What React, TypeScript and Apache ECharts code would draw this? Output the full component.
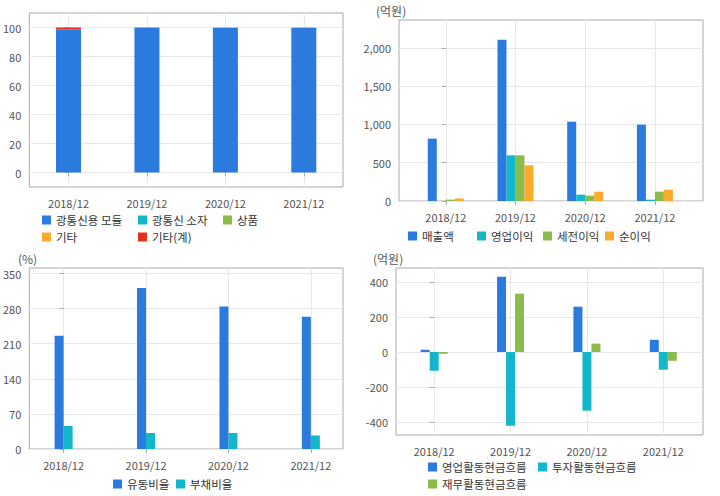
import React, { useEffect, useRef } from "react";
import * as echarts from "echarts";

const categories = ["2018/12", "2019/12", "2020/12", "2021/12"];

// Panel 1: 제품 구성 (%)
const moduleShare = [98.6, 100, 99.7, 99.7];
const deviceShare = [0, 0, 0.3, 0.3];
const goodsShare = [0, 0, 0, 0];
const etcShare = [0, 0, 0, 0];
const etcTotalShare = [1.4, 0, 0, 0];
const p1Ticks = [0, 20, 40, 60, 80, 100];

// Panel 2: 손익 (억원)
const sales = [815, 2109, 1037, 998];
const opProfit = [0, 597, 83, 17];
const pretaxProfit = [18, 597, 70, 122];
const netProfit = [33, 466, 122, 148];
const p2Ticks = [0, 500, 1000, 1500, 2000];

// Panel 3: 비율 (%)
const currentRatio = [226, 321, 284, 264];
const debtRatio = [46, 32, 32, 27];
const p3Ticks = [0, 70, 140, 210, 280, 350];

// Panel 4: 현금흐름 (억원)
const opCash = [13, 430, 259, 70];
const invCash = [-107, -421, -335, -101];
const finCash = [-10, 333, 48, -50];
const p4Ticks = [-400, -200, 0, 200, 400];

const BLUE = "#2b7bdf";
const CYAN = "#14b6ca";
const GREEN = "#8bbb4b";
const ORANGE = "#fbaa2c";
const RED = "#e2321f";

const FONT = "'Noto Sans CJK KR', 'Noto Sans', sans-serif";
const catIdx = [0, 1, 2, 3];

function pairs(vals: number[]) {
  return vals.map((v, i) => [i, v]);
}

const labelStyle = { color: "#555", fontSize: 11, fontFamily: FONT };

function xAxisFor(gridIndex: number, min: number, max: number) {
  return {
    type: "value",
    gridIndex,
    min,
    max,
    axisLine: { show: false },
    axisTick: { show: true, length: 4, lineStyle: { color: "#aaa" }, customValues: catIdx },
    axisLabel: {
      customValues: catIdx,
      formatter: (v: number) => categories[Math.round(v)] ?? "",
      ...labelStyle,
      margin: 10,
    },
    splitLine: { show: true, lineStyle: { color: "#e8e8e8" } },
  };
}

function yAxisFor(gridIndex: number, min: number, max: number, ticks: number[], fmt?: (v: number) => string) {
  return {
    type: "value",
    gridIndex,
    min,
    max,
    axisLine: { show: false },
    axisTick: { show: true, length: 4, lineStyle: { color: "#aaa" }, customValues: ticks },
    axisLabel: {
      customValues: ticks,
      formatter: fmt ?? ((v: number) => String(v)),
      ...labelStyle,
      margin: 8,
    },
    splitLine: { show: true, lineStyle: { color: "#e8e8e8" } },
  };
}

function bar(name: string, vals: number[], color: string, idx: number, extra: any = {}) {
  return {
    type: "bar",
    name,
    xAxisIndex: idx,
    yAxisIndex: idx,
    data: pairs(vals),
    barWidth: 9,
    barGap: "0%",
    itemStyle: { color },
    ...extra,
  };
}

function stackBar(name: string, vals: number[], color: string) {
  return {
    type: "bar",
    name,
    xAxisIndex: 0,
    yAxisIndex: 0,
    stack: "p1",
    data: vals,
    barWidth: 25,
    itemStyle: { color },
  };
}

function legendItem(name: string, left: number, top: number) {
  return {
    data: [name],
    left,
    top,
    padding: 0,
    icon: "rect",
    itemWidth: 9,
    itemHeight: 9,
    selectedMode: false,
    textStyle: { fontSize: 11.5, lineHeight: 12, color: "#333", fontFamily: FONT },
  };
}

function unitText(text: string, x: number, y: number) {
  return {
    type: "text",
    x,
    y,
    style: { text, fill: "#555", fontSize: 12, fontFamily: FONT, textVerticalAlign: "middle" },
  };
}

export default function App() {
  const ref = useRef<HTMLDivElement>(null);

  useEffect(() => {
    if (!ref.current) return;
    const chart = echarts.init(ref.current, undefined, { renderer: "svg" });
    const gridBase = { show: true, borderColor: "#aaa", borderWidth: 1, backgroundColor: "#fff", containLabel: false };
    const option: any = {
      animation: false,
      backgroundColor: "#fff",
      textStyle: { fontFamily: FONT },
      grid: [
        { ...gridBase, left: 29, top: 13, width: 314, height: 174 },
        { ...gridBase, left: 399, top: 20, width: 304, height: 181 },
        { ...gridBase, left: 29, top: 268, width: 314, height: 181 },
        { ...gridBase, left: 396, top: 268, width: 307, height: 167 },
      ],
      xAxis: [
        {
          type: "category",
          gridIndex: 0,
          data: categories,
          axisLine: { show: false },
          axisTick: { show: true, length: 4, alignWithLabel: true, lineStyle: { color: "#aaa" } },
          axisLabel: { ...labelStyle, margin: 10 },
          splitLine: { show: false },
        },
        xAxisFor(1, -0.671, 3.69),
        xAxisFor(2, -0.416, 3.39),
        xAxisFor(3, -0.5, 3.52),
        {
          type: "value",
          gridIndex: 0,
          min: -0.5,
          max: 3.5,
          axisLine: { show: false },
          axisTick: { show: false, customValues: catIdx },
          axisLabel: { show: false, customValues: catIdx },
          splitLine: { show: true, lineStyle: { color: "#e8e8e8" } },
        },
      ],
      yAxis: [
        yAxisFor(0, -10, 110, p1Ticks),
        yAxisFor(1, 0, 2366, p2Ticks, (v: number) => v.toLocaleString("en-US")),
        yAxisFor(2, 0, 361, p3Ticks),
        yAxisFor(3, -474, 480, p4Ticks),
      ],
      legend: [
        legendItem("광통신용 모듈", 42, 214),
        legendItem("광통신 소자", 138, 214),
        legendItem("상품", 223, 214),
        legendItem("기타", 42, 231),
        legendItem("기타(계)", 138, 231),
        legendItem("매출액", 408, 230),
        legendItem("영업이익", 477, 230),
        legendItem("세전이익", 543, 230),
        legendItem("순이익", 605, 230),
        legendItem("유동비율", 113, 478),
        legendItem("부채비율", 176, 478),
        legendItem("영업활동현금흐름", 428, 461),
        legendItem("투자활동현금흐름", 538, 461),
        legendItem("재무활동현금흐름", 428, 478),
      ],
      graphic: [
        unitText("(억원)", 376, 10),
        unitText("(%)", 18, 258),
        unitText("(억원)", 373, 258),
      ],
      series: [
        stackBar("광통신용 모듈", moduleShare, BLUE),
        stackBar("광통신 소자", deviceShare, CYAN),
        stackBar("상품", goodsShare, GREEN),
        stackBar("기타", etcShare, ORANGE),
        stackBar("기타(계)", etcTotalShare, RED),
        bar("매출액", sales, BLUE, 1),
        bar("영업이익", opProfit, CYAN, 1),
        bar("세전이익", pretaxProfit, GREEN, 1),
        bar("순이익", netProfit, ORANGE, 1),
        bar("유동비율", currentRatio, BLUE, 2),
        bar("부채비율", debtRatio, CYAN, 2),
        bar("영업활동현금흐름", opCash, BLUE, 3),
        bar("투자활동현금흐름", invCash, CYAN, 3),
        bar("재무활동현금흐름", finCash, GREEN, 3),
      ],
    };
    chart.setOption(option);
    return () => chart.dispose();
  }, []);

  return (
    <div
      ref={ref}
      style={{ position: "fixed", left: 0, top: 0, width: 720, height: 496, background: "#fff" }}
    />
  );
}
